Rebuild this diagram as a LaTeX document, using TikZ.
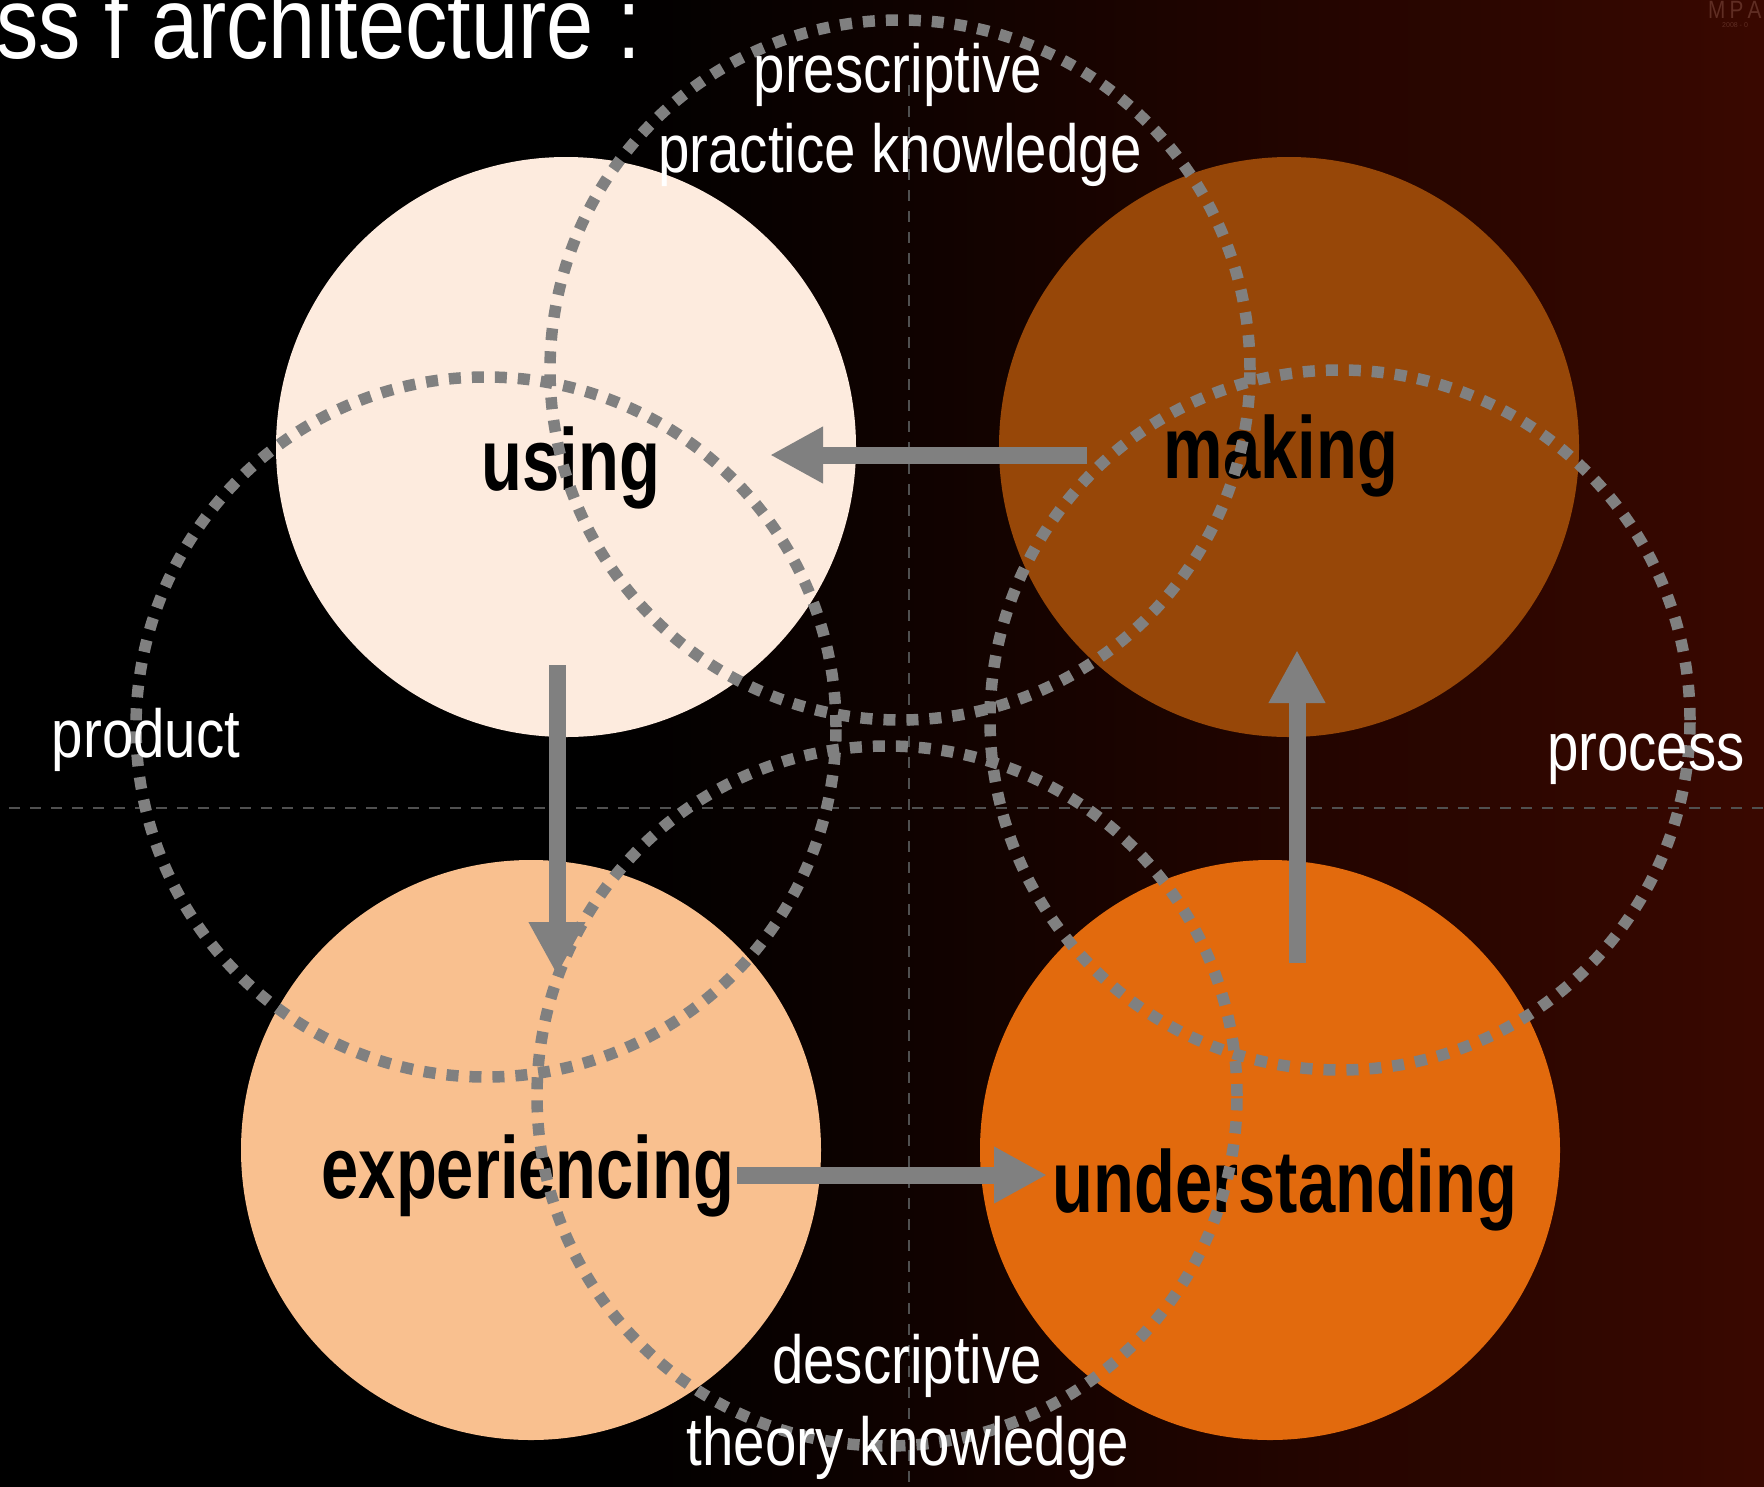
\documentclass[tikz,border=0pt]{standalone}
\usepackage{fontspec}
\setmainfont{Liberation Sans}
\newfontfamily\thincn[FakeStretch=0.83]{Liberation Sans}
\newfontfamily\boldcn[FakeStretch=0.76]{Liberation Sans}
\usepackage{tikz}
\usetikzlibrary{arrows.meta,positioning}
\definecolor{usecol}{RGB}{253,235,222}
\definecolor{makecol}{RGB}{151,71,8}
\definecolor{expcol}{RGB}{249,192,143}
\definecolor{undcol}{RGB}{226,106,13}
\definecolor{bgred}{RGB}{58,8,0}
\definecolor{dotgrey}{RGB}{128,128,128}
\definecolor{guidegrey}{RGB}{80,80,80}
\definecolor{markcol}{RGB}{95,45,35}

\begin{document}
\begin{tikzpicture}[x=1pt,y=-1pt,>={Triangle[length=53pt,width=53pt]},node distance=723pt,
		inner sep=0pt]
		\tikzstyle{blob}=[circle,minimum size=580pt]
		\tikzstyle{field}=[circle,minimum size=700pt,draw=dotgrey,line width=11.5pt,dash pattern=on 12pt off 11pt]
		\tikzstyle{guide}=[draw=guidegrey,line width=2pt,dash pattern=on 11pt off 10pt]
		\tikzstyle{verb}=[anchor=base,text=black,font=\boldcn\bfseries\fontsize{88}{90}\selectfont]
		\tikzstyle{kind}=[anchor=base,text=white,font=\thincn\fontsize{68}{80}\selectfont]
		\tikzstyle{flow}=[->,draw=dotgrey,line width=17pt]
		
		\useasboundingbox (0,0) rectangle (1764,1486);
		\fill[black] (-10,-10) rectangle (600,1496);
		\shade[left color=black,right color=bgred] (599,-10) rectangle (1774,1496);
		
		\draw[guide] (909,85) -- (909,1486);
		\draw[guide] (9,808) -- (1764,808);
		
		\node[blob,fill=usecol] (use) at (566,447) {};
		\node[blob,fill=makecol] (make) [right of=use] {};
		\node[blob,fill=expcol] (exp) at (531,1150) {};
		\node[blob,fill=undcol] (und) at (1270,1150) {};
		
		\node[verb] (usetxt) at (571,490) {using};
		\node[verb] (maketxt) at (1281,478) {making};
		\node[verb] (exptxt) at (528,1198) {experiencing};
		\node[verb] (undtxt) at (1285,1212) {understanding};
		
		\node[field] (prescr) at (900,370) {};
		\node[field] (prod) at (486,727) {};
		\node[field] (proc) at (1340,720) {};
		\node[field] (descr) at (887,1096) {};
		
		% arrow ends
		\coordinate (maketail) at (1087,455);
		\coordinate (usehead) at (770,455);
		\coordinate (usetail) at (557,665);
		\coordinate (exphead) at (557,975);
		\coordinate (exptail) at (737,1175);
		\coordinate (undhead) at (1047,1175);
		\coordinate (undtail) at (1297,963);
		\coordinate (makehead) at (1297,650);
		
		\draw[flow] (maketail) -- (usehead);
		\draw[flow] (usetail) -- (exphead);
		\draw[flow] (exptail) -- (undhead);
		\draw[flow] (undtail) -- (makehead);
		
		\node[kind] (prescrtxt) at (898,92) {prescriptive};
		\node[kind] (practtxt) at (900,172) {practice knowledge};
		\node[kind] (descrtxt) at (907,1383) {descriptive};
		\node[kind] (theorytxt) at (908,1465) {theory knowledge};
		\node[kind] (prodtxt) at (146,757) {product};
		\node[kind] (proctxt) at (1646,770) {process};
		
		\node[kind,anchor=base west,font=\thincn\fontsize{102}{110}\selectfont] (title) at (-4,58) {ss f architecture :};
		\node[anchor=base west,text=markcol,font=\thincn\fontsize{25}{25}\selectfont] (mark) at (1708,18) {M\,P\,A};
		\node[anchor=base west,text=markcol,font=\fontsize{7}{7}\selectfont] (year) at (1722,27) {2008 - 0};
\end{tikzpicture}
\end{document}
